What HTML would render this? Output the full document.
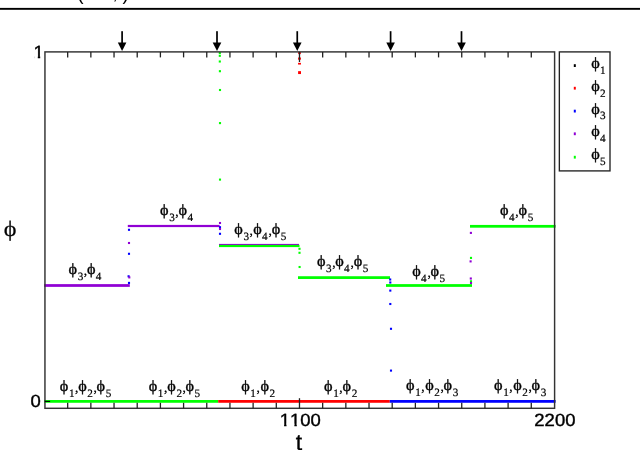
<!DOCTYPE html>
<html><head><meta charset="utf-8"><title>phi plot</title>
<style>html,body{margin:0;padding:0;background:#fff;overflow:hidden}svg{display:block}text{text-rendering:geometricPrecision;font-kerning:none}.s{font-family:"Liberation Sans",sans-serif;fill:#000}.r{font-family:"Liberation Serif",serif;fill:#000}</style></head><body>
<svg width="640" height="450" viewBox="0 0 640 450">
<rect width="640" height="450" fill="#fff"/>
<rect x="0" y="7.9" width="640" height="1.9" fill="#000"/>
<text class="s" x="77.2" y="0.2" font-size="19">(</text>
<text class="s" x="112.6" y="-1.0" font-size="19">,</text>
<text class="s" x="122.6" y="0.2" font-size="19">)</text>
<rect x="44.20" y="400.02" width="174.00" height="2.75" fill="#00ff00"/>
<rect x="218.20" y="400.02" width="171.60" height="2.75" fill="#ff0000"/>
<rect x="389.80" y="400.02" width="165.80" height="2.75" fill="#0000ff"/>
<rect x="44.20" y="284.12" width="85.60" height="2.75" fill="#9000d4"/>
<rect x="127.80" y="224.90" width="91.80" height="2.20" fill="#9000d4"/>
<rect x="219.00" y="243.90" width="80.00" height="1.10" fill="#9000d4"/>
<rect x="219.00" y="244.90" width="80.50" height="2.20" fill="#00ff00"/>
<rect x="298.00" y="276.23" width="92.00" height="2.75" fill="#00ff00"/>
<rect x="386.00" y="284.12" width="86.00" height="2.75" fill="#00ff00"/>
<rect x="470.00" y="224.93" width="85.60" height="2.75" fill="#00ff00"/>
<rect x="127.95" y="228.75" width="2.10" height="2.10" fill="#0000ff"/>
<rect x="127.95" y="241.95" width="2.10" height="2.10" fill="#9000d4"/>
<rect x="127.95" y="252.75" width="2.10" height="2.10" fill="#0000ff"/>
<rect x="127.55" y="275.25" width="2.10" height="2.10" fill="#0000ff"/>
<rect x="128.25" y="276.35" width="2.10" height="2.10" fill="#9000d4"/>
<rect x="127.95" y="281.85" width="2.10" height="2.10" fill="#0000ff"/>
<rect x="218.95" y="221.95" width="2.10" height="2.10" fill="#9000d4"/>
<rect x="218.95" y="226.15" width="2.10" height="2.10" fill="#0000ff"/>
<rect x="218.95" y="227.95" width="2.10" height="2.10" fill="#9000d4"/>
<rect x="218.95" y="232.75" width="2.10" height="2.10" fill="#0000ff"/>
<rect x="218.75" y="51.95" width="2.10" height="2.10" fill="#00ff00"/>
<rect x="218.75" y="54.75" width="2.10" height="2.10" fill="#00ff00"/>
<rect x="218.75" y="60.45" width="2.10" height="2.10" fill="#00ff00"/>
<rect x="218.85" y="70.15" width="2.10" height="2.10" fill="#00ff00"/>
<rect x="218.95" y="88.95" width="2.10" height="2.10" fill="#00ff00"/>
<rect x="218.95" y="122.05" width="2.10" height="2.10" fill="#00ff00"/>
<rect x="218.95" y="178.55" width="2.10" height="2.10" fill="#00ff00"/>
<rect x="298.45" y="247.75" width="2.10" height="2.10" fill="#00ff00"/>
<rect x="298.45" y="251.75" width="2.10" height="2.10" fill="#00ff00"/>
<rect x="298.55" y="265.95" width="2.10" height="2.10" fill="#00ff00"/>
<rect x="389.15" y="278.45" width="2.10" height="2.10" fill="#0000ff"/>
<rect x="389.25" y="281.45" width="2.10" height="2.10" fill="#0000ff"/>
<rect x="389.25" y="289.55" width="2.10" height="2.10" fill="#0000ff"/>
<rect x="389.25" y="302.95" width="2.10" height="2.10" fill="#0000ff"/>
<rect x="389.95" y="327.75" width="2.10" height="2.10" fill="#0000ff"/>
<rect x="389.95" y="369.55" width="2.10" height="2.10" fill="#0000ff"/>
<rect x="469.85" y="231.85" width="2.10" height="2.10" fill="#9000d4"/>
<rect x="469.95" y="256.85" width="2.10" height="2.10" fill="#00ff00"/>
<rect x="469.55" y="260.35" width="2.10" height="2.10" fill="#9000d4"/>
<rect x="469.75" y="277.45" width="2.10" height="2.10" fill="#9000d4"/>
<rect x="469.95" y="280.25" width="2.10" height="2.10" fill="#00ff00"/>
<rect x="469.95" y="281.95" width="2.10" height="2.10" fill="#9000d4"/>
<rect x="298.20" y="51.90" width="2.60" height="2.20" fill="#ff0000"/>
<rect x="298.10" y="57.50" width="2.80" height="2.20" fill="#ff0000"/>
<rect x="298.05" y="62.85" width="2.90" height="1.70" fill="#ff0000"/>
<rect x="298.10" y="71.15" width="2.90" height="2.90" fill="#ff0000"/>
<rect x="44.95" y="51.90" width="509.65" height="356.40" fill="none" stroke="#333" stroke-width="1.45"/>
<line x1="67.68" y1="51.90" x2="67.68" y2="57.40" stroke="#222" stroke-width="1.3"/>
<line x1="67.68" y1="408.30" x2="67.68" y2="402.80" stroke="#222" stroke-width="1.3"/>
<line x1="90.86" y1="51.90" x2="90.86" y2="57.40" stroke="#222" stroke-width="1.3"/>
<line x1="90.86" y1="408.30" x2="90.86" y2="402.80" stroke="#222" stroke-width="1.3"/>
<line x1="114.04" y1="51.90" x2="114.04" y2="57.40" stroke="#222" stroke-width="1.3"/>
<line x1="114.04" y1="408.30" x2="114.04" y2="402.80" stroke="#222" stroke-width="1.3"/>
<line x1="137.22" y1="51.90" x2="137.22" y2="57.40" stroke="#222" stroke-width="1.3"/>
<line x1="137.22" y1="408.30" x2="137.22" y2="402.80" stroke="#222" stroke-width="1.3"/>
<line x1="160.40" y1="51.90" x2="160.40" y2="57.40" stroke="#222" stroke-width="1.3"/>
<line x1="160.40" y1="408.30" x2="160.40" y2="402.80" stroke="#222" stroke-width="1.3"/>
<line x1="183.58" y1="51.90" x2="183.58" y2="57.40" stroke="#222" stroke-width="1.3"/>
<line x1="183.58" y1="408.30" x2="183.58" y2="402.80" stroke="#222" stroke-width="1.3"/>
<line x1="206.76" y1="51.90" x2="206.76" y2="57.40" stroke="#222" stroke-width="1.3"/>
<line x1="206.76" y1="408.30" x2="206.76" y2="402.80" stroke="#222" stroke-width="1.3"/>
<line x1="229.94" y1="51.90" x2="229.94" y2="57.40" stroke="#222" stroke-width="1.3"/>
<line x1="229.94" y1="408.30" x2="229.94" y2="402.80" stroke="#222" stroke-width="1.3"/>
<line x1="253.12" y1="51.90" x2="253.12" y2="57.40" stroke="#222" stroke-width="1.3"/>
<line x1="253.12" y1="408.30" x2="253.12" y2="402.80" stroke="#222" stroke-width="1.3"/>
<line x1="276.30" y1="51.90" x2="276.30" y2="57.40" stroke="#222" stroke-width="1.3"/>
<line x1="276.30" y1="408.30" x2="276.30" y2="402.80" stroke="#222" stroke-width="1.3"/>
<line x1="299.48" y1="51.90" x2="299.48" y2="62.00" stroke="#222" stroke-width="1.3"/>
<line x1="299.48" y1="408.30" x2="299.48" y2="398.20" stroke="#222" stroke-width="1.3"/>
<line x1="322.66" y1="51.90" x2="322.66" y2="57.40" stroke="#222" stroke-width="1.3"/>
<line x1="322.66" y1="408.30" x2="322.66" y2="402.80" stroke="#222" stroke-width="1.3"/>
<line x1="345.84" y1="51.90" x2="345.84" y2="57.40" stroke="#222" stroke-width="1.3"/>
<line x1="345.84" y1="408.30" x2="345.84" y2="402.80" stroke="#222" stroke-width="1.3"/>
<line x1="369.02" y1="51.90" x2="369.02" y2="57.40" stroke="#222" stroke-width="1.3"/>
<line x1="369.02" y1="408.30" x2="369.02" y2="402.80" stroke="#222" stroke-width="1.3"/>
<line x1="392.20" y1="51.90" x2="392.20" y2="57.40" stroke="#222" stroke-width="1.3"/>
<line x1="392.20" y1="408.30" x2="392.20" y2="402.80" stroke="#222" stroke-width="1.3"/>
<line x1="415.38" y1="51.90" x2="415.38" y2="57.40" stroke="#222" stroke-width="1.3"/>
<line x1="415.38" y1="408.30" x2="415.38" y2="402.80" stroke="#222" stroke-width="1.3"/>
<line x1="438.56" y1="51.90" x2="438.56" y2="57.40" stroke="#222" stroke-width="1.3"/>
<line x1="438.56" y1="408.30" x2="438.56" y2="402.80" stroke="#222" stroke-width="1.3"/>
<line x1="461.74" y1="51.90" x2="461.74" y2="57.40" stroke="#222" stroke-width="1.3"/>
<line x1="461.74" y1="408.30" x2="461.74" y2="402.80" stroke="#222" stroke-width="1.3"/>
<line x1="484.92" y1="51.90" x2="484.92" y2="57.40" stroke="#222" stroke-width="1.3"/>
<line x1="484.92" y1="408.30" x2="484.92" y2="402.80" stroke="#222" stroke-width="1.3"/>
<line x1="508.10" y1="51.90" x2="508.10" y2="57.40" stroke="#222" stroke-width="1.3"/>
<line x1="508.10" y1="408.30" x2="508.10" y2="402.80" stroke="#222" stroke-width="1.3"/>
<line x1="531.28" y1="51.90" x2="531.28" y2="57.40" stroke="#222" stroke-width="1.3"/>
<line x1="531.28" y1="408.30" x2="531.28" y2="402.80" stroke="#222" stroke-width="1.3"/>
<line x1="44.95" y1="401.40" x2="50.15" y2="401.40" stroke="#000" stroke-width="1.1"/>
<text class="s" transform="translate(43.70,58.10) scale(1.045,1)" font-size="17.7" text-anchor="end" stroke="#000" stroke-width="0.4">1</text>
<rect x="34.32" y="55.78" width="3.45" height="3.52" fill="#fff"/>
<rect x="40.20" y="55.78" width="3.65" height="3.52" fill="#fff"/>
<text class="s" transform="translate(40.90,407.20) scale(1.045,1)" font-size="17.7" text-anchor="end" stroke="#000" stroke-width="0.4">0</text>
<text class="s" transform="translate(300.30,426.00) scale(1.045,1)" font-size="17.7" text-anchor="middle" stroke="#000" stroke-width="0.4">1100</text>
<rect x="280.63" y="423.68" width="3.45" height="3.52" fill="#fff"/>
<rect x="286.51" y="423.68" width="3.65" height="3.52" fill="#fff"/>
<rect x="290.92" y="423.68" width="3.45" height="3.52" fill="#fff"/>
<rect x="296.80" y="423.68" width="3.65" height="3.52" fill="#fff"/>
<text class="s" transform="translate(554.90,426.00) scale(1.045,1)" font-size="17.7" text-anchor="middle" stroke="#000" stroke-width="0.4">2200</text>
<text class="s" x="298.9" y="450.3" font-size="23" text-anchor="middle" stroke="#000" stroke-width="0.35">t</text>
<text class="r" transform="translate(3.74,236.00) scale(1.100,1)" font-size="22.0" stroke="#000" stroke-width="0.22">ϕ</text>
<text class="r" transform="translate(68.54,274.00) scale(1.040,1)" font-size="15.6" stroke="#000" stroke-width="0.35">ϕ</text>
<text class="r" x="77.70" y="280.00" font-size="11.2" stroke="#000" stroke-width="0.2">3</text>
<text class="r" x="83.85" y="275.00" font-size="13.5" stroke="#000" stroke-width="0.25">,</text>
<text class="r" transform="translate(86.99,274.00) scale(1.040,1)" font-size="15.6" stroke="#000" stroke-width="0.35">ϕ</text>
<text class="r" x="95.85" y="280.00" font-size="11.2" stroke="#000" stroke-width="0.2">4</text>
<text class="r" transform="translate(160.04,215.00) scale(1.040,1)" font-size="15.6" stroke="#000" stroke-width="0.35">ϕ</text>
<text class="r" x="169.20" y="221.00" font-size="11.2" stroke="#000" stroke-width="0.2">3</text>
<text class="r" x="175.35" y="216.00" font-size="13.5" stroke="#000" stroke-width="0.25">,</text>
<text class="r" transform="translate(178.54,215.00) scale(1.040,1)" font-size="15.6" stroke="#000" stroke-width="0.35">ϕ</text>
<text class="r" x="187.40" y="221.00" font-size="11.2" stroke="#000" stroke-width="0.2">4</text>
<text class="r" transform="translate(234.24,234.00) scale(1.040,1)" font-size="15.6" stroke="#000" stroke-width="0.35">ϕ</text>
<text class="r" x="243.40" y="240.00" font-size="11.2" stroke="#000" stroke-width="0.2">3</text>
<text class="r" x="249.55" y="235.00" font-size="13.5" stroke="#000" stroke-width="0.25">,</text>
<text class="r" transform="translate(253.14,234.00) scale(1.040,1)" font-size="15.6" stroke="#000" stroke-width="0.35">ϕ</text>
<text class="r" x="262.00" y="240.00" font-size="11.2" stroke="#000" stroke-width="0.2">4</text>
<text class="r" x="268.45" y="235.00" font-size="13.5" stroke="#000" stroke-width="0.25">,</text>
<text class="r" transform="translate(271.64,234.00) scale(1.040,1)" font-size="15.6" stroke="#000" stroke-width="0.35">ϕ</text>
<text class="r" x="280.80" y="240.00" font-size="11.2" stroke="#000" stroke-width="0.2">5</text>
<text class="r" transform="translate(316.94,266.00) scale(1.040,1)" font-size="15.6" stroke="#000" stroke-width="0.35">ϕ</text>
<text class="r" x="326.10" y="272.00" font-size="11.2" stroke="#000" stroke-width="0.2">3</text>
<text class="r" x="332.25" y="267.00" font-size="13.5" stroke="#000" stroke-width="0.25">,</text>
<text class="r" transform="translate(335.24,266.00) scale(1.040,1)" font-size="15.6" stroke="#000" stroke-width="0.35">ϕ</text>
<text class="r" x="344.10" y="272.00" font-size="11.2" stroke="#000" stroke-width="0.2">4</text>
<text class="r" x="350.55" y="267.00" font-size="13.5" stroke="#000" stroke-width="0.25">,</text>
<text class="r" transform="translate(353.64,266.00) scale(1.040,1)" font-size="15.6" stroke="#000" stroke-width="0.35">ϕ</text>
<text class="r" x="362.80" y="272.00" font-size="11.2" stroke="#000" stroke-width="0.2">5</text>
<text class="r" transform="translate(412.14,276.00) scale(1.040,1)" font-size="15.6" stroke="#000" stroke-width="0.35">ϕ</text>
<text class="r" x="421.00" y="282.00" font-size="11.2" stroke="#000" stroke-width="0.2">4</text>
<text class="r" x="427.45" y="277.00" font-size="13.5" stroke="#000" stroke-width="0.25">,</text>
<text class="r" transform="translate(430.44,276.00) scale(1.040,1)" font-size="15.6" stroke="#000" stroke-width="0.35">ϕ</text>
<text class="r" x="439.60" y="282.00" font-size="11.2" stroke="#000" stroke-width="0.2">5</text>
<text class="r" transform="translate(500.04,215.00) scale(1.040,1)" font-size="15.6" stroke="#000" stroke-width="0.35">ϕ</text>
<text class="r" x="508.90" y="221.00" font-size="11.2" stroke="#000" stroke-width="0.2">4</text>
<text class="r" x="515.35" y="216.00" font-size="13.5" stroke="#000" stroke-width="0.25">,</text>
<text class="r" transform="translate(518.54,215.00) scale(1.040,1)" font-size="15.6" stroke="#000" stroke-width="0.35">ϕ</text>
<text class="r" x="527.70" y="221.00" font-size="11.2" stroke="#000" stroke-width="0.2">5</text>
<text class="r" transform="translate(59.74,391.00) scale(1.040,1)" font-size="15.6" stroke="#000" stroke-width="0.35">ϕ</text>
<text class="r" x="68.90" y="397.00" font-size="11.2" stroke="#000" stroke-width="0.2">1</text>
<text class="r" x="75.05" y="392.00" font-size="13.5" stroke="#000" stroke-width="0.25">,</text>
<text class="r" transform="translate(78.14,391.00) scale(1.040,1)" font-size="15.6" stroke="#000" stroke-width="0.35">ϕ</text>
<text class="r" x="87.30" y="397.00" font-size="11.2" stroke="#000" stroke-width="0.2">2</text>
<text class="r" x="93.45" y="392.00" font-size="13.5" stroke="#000" stroke-width="0.25">,</text>
<text class="r" transform="translate(96.54,391.00) scale(1.040,1)" font-size="15.6" stroke="#000" stroke-width="0.35">ϕ</text>
<text class="r" x="105.70" y="397.00" font-size="11.2" stroke="#000" stroke-width="0.2">5</text>
<text class="r" transform="translate(148.64,391.00) scale(1.040,1)" font-size="15.6" stroke="#000" stroke-width="0.35">ϕ</text>
<text class="r" x="157.80" y="397.00" font-size="11.2" stroke="#000" stroke-width="0.2">1</text>
<text class="r" x="163.95" y="392.00" font-size="13.5" stroke="#000" stroke-width="0.25">,</text>
<text class="r" transform="translate(167.24,391.00) scale(1.040,1)" font-size="15.6" stroke="#000" stroke-width="0.35">ϕ</text>
<text class="r" x="176.40" y="397.00" font-size="11.2" stroke="#000" stroke-width="0.2">2</text>
<text class="r" x="182.55" y="392.00" font-size="13.5" stroke="#000" stroke-width="0.25">,</text>
<text class="r" transform="translate(185.44,391.00) scale(1.040,1)" font-size="15.6" stroke="#000" stroke-width="0.35">ϕ</text>
<text class="r" x="194.60" y="397.00" font-size="11.2" stroke="#000" stroke-width="0.2">5</text>
<text class="r" transform="translate(241.14,391.00) scale(1.040,1)" font-size="15.6" stroke="#000" stroke-width="0.35">ϕ</text>
<text class="r" x="250.30" y="397.00" font-size="11.2" stroke="#000" stroke-width="0.2">1</text>
<text class="r" x="256.45" y="392.00" font-size="13.5" stroke="#000" stroke-width="0.25">,</text>
<text class="r" transform="translate(260.44,391.00) scale(1.040,1)" font-size="15.6" stroke="#000" stroke-width="0.35">ϕ</text>
<text class="r" x="269.60" y="397.00" font-size="11.2" stroke="#000" stroke-width="0.2">2</text>
<text class="r" transform="translate(324.04,391.00) scale(1.040,1)" font-size="15.6" stroke="#000" stroke-width="0.35">ϕ</text>
<text class="r" x="333.20" y="397.00" font-size="11.2" stroke="#000" stroke-width="0.2">1</text>
<text class="r" x="339.35" y="392.00" font-size="13.5" stroke="#000" stroke-width="0.25">,</text>
<text class="r" transform="translate(342.54,391.00) scale(1.040,1)" font-size="15.6" stroke="#000" stroke-width="0.35">ϕ</text>
<text class="r" x="351.70" y="397.00" font-size="11.2" stroke="#000" stroke-width="0.2">2</text>
<text class="r" transform="translate(406.04,390.00) scale(1.040,1)" font-size="15.6" stroke="#000" stroke-width="0.35">ϕ</text>
<text class="r" x="415.20" y="396.00" font-size="11.2" stroke="#000" stroke-width="0.2">1</text>
<text class="r" x="421.35" y="391.00" font-size="13.5" stroke="#000" stroke-width="0.25">,</text>
<text class="r" transform="translate(425.14,390.00) scale(1.040,1)" font-size="15.6" stroke="#000" stroke-width="0.35">ϕ</text>
<text class="r" x="434.30" y="396.00" font-size="11.2" stroke="#000" stroke-width="0.2">2</text>
<text class="r" x="440.45" y="391.00" font-size="13.5" stroke="#000" stroke-width="0.25">,</text>
<text class="r" transform="translate(443.54,390.00) scale(1.040,1)" font-size="15.6" stroke="#000" stroke-width="0.35">ϕ</text>
<text class="r" x="452.70" y="396.00" font-size="11.2" stroke="#000" stroke-width="0.2">3</text>
<text class="r" transform="translate(494.04,390.00) scale(1.040,1)" font-size="15.6" stroke="#000" stroke-width="0.35">ϕ</text>
<text class="r" x="503.20" y="396.00" font-size="11.2" stroke="#000" stroke-width="0.2">1</text>
<text class="r" x="509.35" y="391.00" font-size="13.5" stroke="#000" stroke-width="0.25">,</text>
<text class="r" transform="translate(513.14,390.00) scale(1.040,1)" font-size="15.6" stroke="#000" stroke-width="0.35">ϕ</text>
<text class="r" x="522.30" y="396.00" font-size="11.2" stroke="#000" stroke-width="0.2">2</text>
<text class="r" x="528.45" y="391.00" font-size="13.5" stroke="#000" stroke-width="0.25">,</text>
<text class="r" transform="translate(531.54,390.00) scale(1.040,1)" font-size="15.6" stroke="#000" stroke-width="0.35">ϕ</text>
<text class="r" x="540.70" y="396.00" font-size="11.2" stroke="#000" stroke-width="0.2">3</text>
<rect x="121.25" y="31.2" width="1.7" height="13" fill="#000"/>
<polygon points="117.80,42.5 126.40,42.5 122.10,51.0" fill="#000"/>
<rect x="216.15" y="31.2" width="1.7" height="13" fill="#000"/>
<polygon points="212.70,42.5 221.30,42.5 217.00,51.0" fill="#000"/>
<rect x="296.40" y="31.2" width="1.7" height="13" fill="#000"/>
<polygon points="292.95,42.5 301.55,42.5 297.25,51.0" fill="#000"/>
<rect x="389.75" y="31.2" width="1.7" height="13" fill="#000"/>
<polygon points="386.30,42.5 394.90,42.5 390.60,51.0" fill="#000"/>
<rect x="460.65" y="31.2" width="1.7" height="13" fill="#000"/>
<polygon points="457.20,42.5 465.80,42.5 461.50,51.0" fill="#000"/>
<rect x="559.35" y="51.9" width="50.65" height="119.0" fill="#fff" stroke="#222" stroke-width="1.35"/>
<rect x="573.80" y="64.20" width="2.00" height="2.80" fill="#000"/>
<text class="r" transform="translate(591.14,67.90) scale(1.040,1)" font-size="15.6" stroke="#000" stroke-width="0.35">ϕ</text>
<text class="r" x="600.10" y="73.70" font-size="11.2" stroke="#000" stroke-width="0.2">1</text>
<rect x="573.80" y="86.80" width="2.00" height="2.80" fill="#ff0000"/>
<text class="r" transform="translate(591.14,90.70) scale(1.040,1)" font-size="15.6" stroke="#000" stroke-width="0.35">ϕ</text>
<text class="r" x="600.10" y="96.50" font-size="11.2" stroke="#000" stroke-width="0.2">2</text>
<rect x="573.80" y="109.70" width="2.00" height="2.80" fill="#0000ff"/>
<text class="r" transform="translate(591.14,113.50) scale(1.040,1)" font-size="15.6" stroke="#000" stroke-width="0.35">ϕ</text>
<text class="r" x="600.10" y="119.30" font-size="11.2" stroke="#000" stroke-width="0.2">3</text>
<rect x="573.80" y="132.40" width="2.00" height="2.80" fill="#9000d4"/>
<text class="r" transform="translate(591.14,136.30) scale(1.040,1)" font-size="15.6" stroke="#000" stroke-width="0.35">ϕ</text>
<text class="r" x="600.10" y="142.10" font-size="11.2" stroke="#000" stroke-width="0.2">4</text>
<rect x="573.80" y="155.80" width="2.00" height="2.80" fill="#00ff00"/>
<text class="r" transform="translate(591.14,159.10) scale(1.040,1)" font-size="15.6" stroke="#000" stroke-width="0.35">ϕ</text>
<text class="r" x="600.10" y="164.90" font-size="11.2" stroke="#000" stroke-width="0.2">5</text>
</svg></body></html>
